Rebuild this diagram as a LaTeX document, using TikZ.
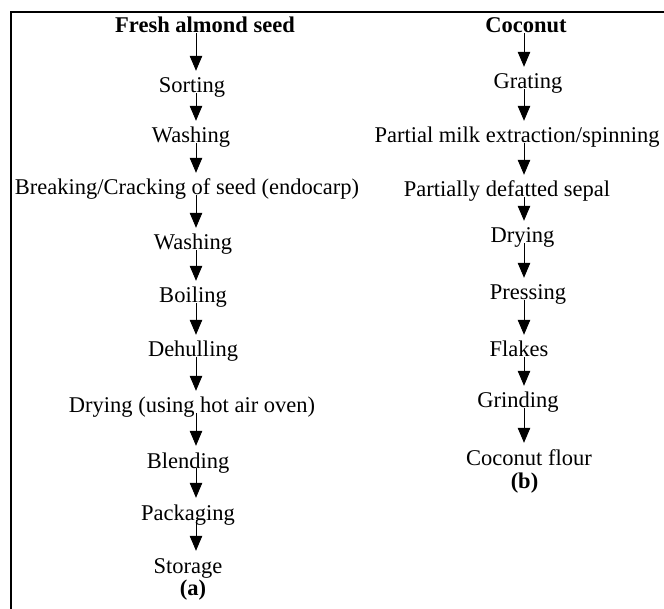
\documentclass[tikz,border=0pt]{standalone}
\usepackage{fontspec}
\setmainfont{Liberation Serif}
\usetikzlibrary{arrows.meta}
\tikzset{
  lbl/.style={inner sep=0pt, anchor=base, text height=15pt, text depth=5pt, font=\fontsize{22.5}{27}\selectfont},
  ttl/.style={lbl, font=\fontsize{22.5}{27}\selectfont\bfseries},
  flow/.style={line width=1pt, -{Triangle[length=15pt,width=12.5pt]}, shorten >=7pt},
  frame/.style={line width=2pt}
}
\begin{document}
\begin{tikzpicture}[x=1pt,y=-1pt]
\useasboundingbox (0,0) rectangle (664,609);
\draw[frame] (11,609) -- (11,12.5) -- (664,12.5);
% columns for arrows
\coordinate (cl) at (196,0);
\coordinate (cr) at (524,0);
% left column
\node[ttl] (a0) at (205,33) {Fresh almond seed};
\node[lbl] (a1) at (192,93) {Sorting};
\node[lbl] (a2) at (191,143) {Washing};
\node[lbl] (a3) at (187,195) {Breaking/Cracking of seed (endocarp)};
\node[lbl] (a4) at (193,250) {Washing};
\node[lbl] (a5) at (193,303) {Boiling};
\node[lbl] (a6) at (193,357) {Dehulling};
\node[lbl] (a7) at (192,413) {Drying (using hot air oven)};
\node[lbl] (a8) at (188,468) {Blending};
\node[lbl] (a9) at (188,520) {Packaging};
\node[lbl] (a10) at (188,573) {Storage};
\node[ttl] (la) at (193,595) {(a)};
\foreach \i/\j in {a0/a1,a1/a2,a2/a3,a3/a4,a4/a5,a5/a6,a6/a7,a7/a8,a8/a9,a9/a10}
  \draw[flow] (\i.base -| cl) -- (\j.north -| cl);
% right column
\node[ttl] (b0) at (526,33) {Coconut};
\node[lbl] (b1) at (528,89) {Grating};
\node[lbl] (b2) at (517,143) {Partial milk extraction/spinning};
\node[lbl] (b3) at (507,197) {Partially defatted sepal};
\node[lbl] (b4) at (522.5,243) {Drying};
\node[lbl] (b5) at (528,300) {Pressing};
\node[lbl] (b6) at (519,357) {Flakes};
\node[lbl] (b7) at (518,408) {Grinding};
\node[lbl] (b8) at (529,465) {Coconut flour};
\node[ttl] (lb) at (524.5,488) {(b)};
\foreach \i/\j in {b0/b1,b1/b2,b2/b3,b3/b4,b4/b5,b5/b6,b6/b7,b7/b8}
  \draw[flow] (\i.base -| cr) -- (\j.north -| cr);
\end{tikzpicture}
\end{document}
